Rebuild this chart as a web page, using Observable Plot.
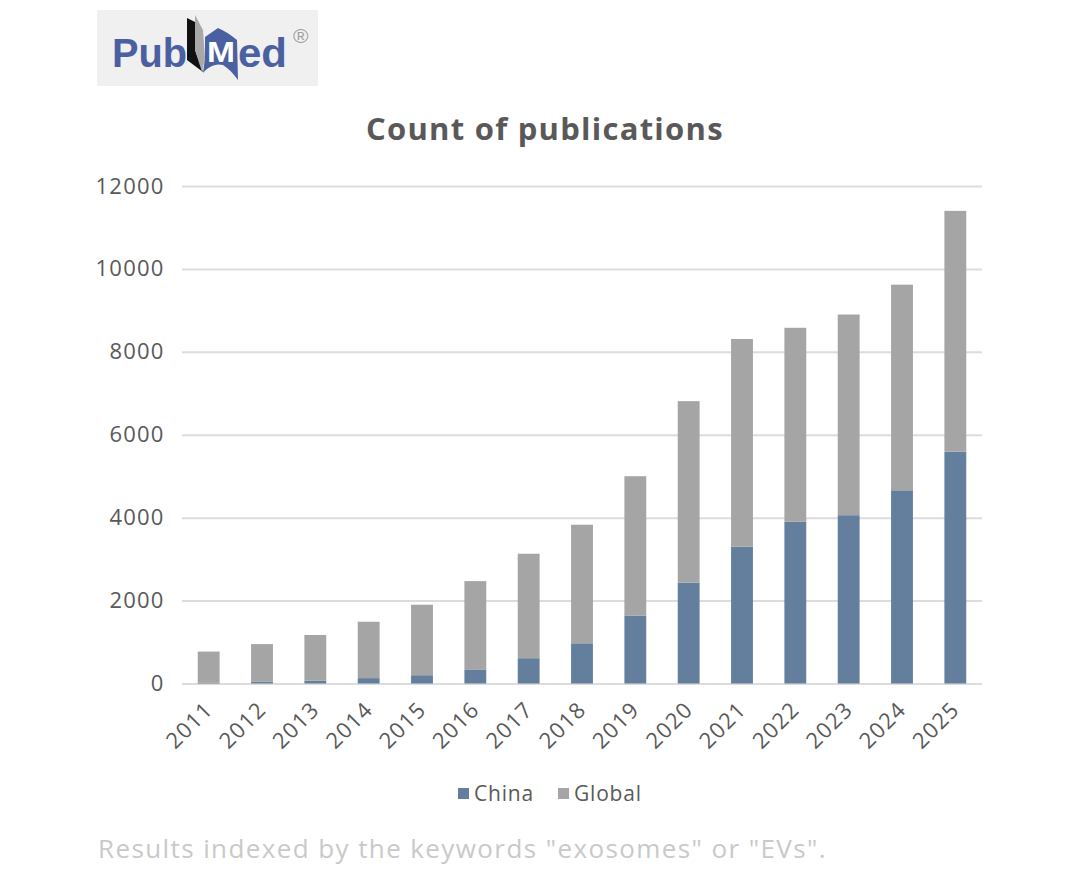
<!DOCTYPE html>
<html>
<head>
<meta charset="utf-8">
<script src="https://cdn.jsdelivr.net/npm/d3@7"></script>
<script src="https://cdn.jsdelivr.net/npm/@observablehq/plot@0.6"></script>
<style>
  html, body { margin: 0; padding: 0; background: #fff; }
  body { width: 1080px; height: 872px; position: relative; overflow: hidden; font-family: "Open Sans", sans-serif; }
  #logo { position: absolute; left: 97px; top: 10px; width: 221px; height: 76px; background: #f0f0f0; }
  #logo svg { display: block; }
  #title { position: absolute; left: 366px; top: 108px; font-size: 31px; font-weight: 700; letter-spacing: 1.25px; color: #595959; line-height: 40px; white-space: nowrap; }
  #chart { position: absolute; left: 0; top: 150px; }
  #legend { position: absolute; left: 458px; top: 780px; display: flex; align-items: center; font-size: 21px; letter-spacing: 0.8px; color: #595959; line-height: 26px; }
  #legend span.sw { width: 11px; height: 11px; margin-right: 5px; display: inline-block; }
  #legend span.lb { margin-right: 24px; }
  #caption { position: absolute; left: 98px; top: 831px; font-size: 26px; letter-spacing: 1.4px; color: #c9c9c9; line-height: 34px; white-space: nowrap; }
</style>
</head>
<body>
<div id="logo">
  <svg width="221" height="76" viewBox="0 0 221 76">
    <text x="15" y="57" font-family="Liberation Sans" font-weight="700" font-size="41" fill="#4a60a1" textLength="75" lengthAdjust="spacingAndGlyphs">Pub</text>
    <path d="M90 8 L98 12 L98 40 L106 62 L90 50 Z" fill="#111"/>
    <path d="M98 5 L106 20 L108 48 L105 62 L98 40 Z" fill="#a8a8a8"/>
    <path d="M108 27 L121 18 C128 21 134 25 140 30 L141 70 C136 63 131 58 126 55 C118 53 111 57 106 63 L108 48 Z" fill="#4a60a1"/>
    <text x="110" y="52" font-family="Liberation Sans" font-weight="700" font-size="29" fill="#fff" textLength="28" lengthAdjust="spacingAndGlyphs">M</text>
    <text x="141" y="57" font-family="Liberation Sans" font-weight="700" font-size="41" fill="#4a60a1" textLength="49" lengthAdjust="spacingAndGlyphs">ed</text>
    <text x="196" y="33" font-family="Liberation Sans" font-size="21" fill="#a0a0a0">®</text>
  </svg>
</div>
<div id="title">Count of publications</div>
<div id="chart"></div>
<div id="legend"></div>
<div id="caption">Results indexed by the keywords "exosomes" or "EVs".</div>
<script>
const years = ["2011","2012","2013","2014","2015","2016","2017","2018","2019","2020","2021","2022","2023","2024","2025"];
const chinaValues = [15, 40, 70, 130, 200, 340, 610, 970, 1640, 2430, 3300, 3900, 4060, 4660, 5590];
const globalValues = [755, 910, 1100, 1360, 1700, 2130, 2520, 2860, 3360, 4380, 5010, 4680, 4840, 4960, 5810];
const seriesNames = ["China", "Global"];
const seriesColors = ["#647f9e", "#a5a5a5"];
const yTicks = [0, 2000, 4000, 6000, 8000, 10000, 12000];

const rows = [
  ...years.map((year, i) => ({year, series: "China", value: chinaValues[i]})),
  ...years.map((year, i) => ({year, series: "Global", value: globalValues[i]}))
];

const plot = Plot.plot({
  width: 1080,
  height: 620,
  marginLeft: 182,
  marginRight: 98,
  marginTop: 36,
  marginBottom: 86.5,
  style: {background: "transparent", fontFamily: "Open Sans, sans-serif", letterSpacing: "1.2px", overflow: "visible"},
  x: {domain: years, label: null, paddingInner: 0.59, paddingOuter: 0.295, align: 0.5, round: false},
  y: {domain: [0, 12000], label: null},
  color: {domain: seriesNames, range: seriesColors},
  marks: [
    Plot.ruleY(yTicks, {stroke: "#dcdcdc", strokeWidth: 2}),
    Plot.barY(rows, {x: "year", y: "value", fill: "series", order: seriesNames}),
    Plot.axisY({ticks: yTicks, tickSize: 0, tickPadding: 18, label: null, fontSize: 22, color: "#595959", tickFormat: d => String(d)}),
    Plot.axisX({tickSize: 0, tickPadding: 22, tickRotate: -45, label: null, fontSize: 22, color: "#595959"})
  ]
});
document.getElementById("chart").appendChild(plot);

const legend = document.getElementById("legend");
seriesNames.forEach((name, i) => {
  const sw = document.createElement("span");
  sw.className = "sw";
  sw.style.background = seriesColors[i];
  const lb = document.createElement("span");
  lb.className = "lb";
  lb.textContent = name;
  legend.append(sw, lb);
});
</script>
</body>
</html>
